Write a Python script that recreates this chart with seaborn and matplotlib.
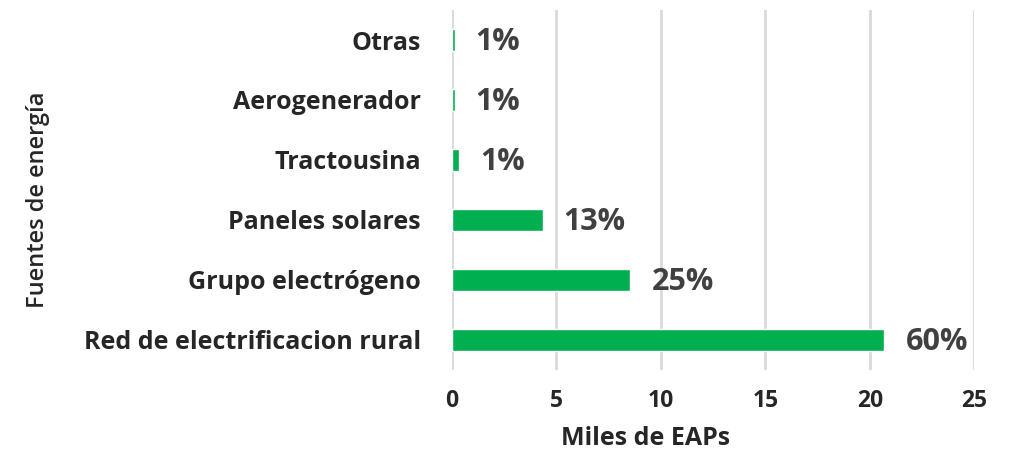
import matplotlib
matplotlib.use("Agg")
import matplotlib.pyplot as plt
import seaborn as sns
import pandas as pd

fuentes = ["Otras", "Aerogenerador", "Tractousina", "Paneles solares",
           "Grupo electrógeno", "Red de electrificacion rural"]
miles_eaps = [0.15, 0.15, 0.35, 4.35, 8.55, 20.7]
porcentajes = ["1%", "1%", "1%", "13%", "25%", "60%"]
ticks_x = [0, 5, 10, 15, 20, 25]

sns.set_theme(style="white")
plt.rcParams["font.family"] = ["Open Sans", "DejaVu Sans"]

df = pd.DataFrame({"fuente": fuentes, "miles": miles_eaps})

fig = plt.figure(figsize=(10.15, 4.55), dpi=100)
ax = fig.add_axes([0.445, 0.187, 0.515, 0.791])

sns.barplot(data=df, x="miles", y="fuente", orient="h", color="#00b050",
            saturation=1, width=0.36, ax=ax)

ax.set_xlim(0, 25)
ax.set_ylim(5.5, -0.5)
ax.set_xticks(ticks_x)
ax.set_xticklabels([str(t) for t in ticks_x], fontsize=16.5, fontweight="bold")
ax.tick_params(axis="y", labelsize=18, length=0, pad=22)
ax.tick_params(axis="x", length=0, pad=14)
for lab in ax.get_yticklabels():
    lab.set_fontweight("bold")

ax.grid(axis="x", color="#d9d9d9", linewidth=2)
ax.set_axisbelow(True)
for s in ax.spines.values():
    s.set_visible(False)

for i, (v, p) in enumerate(zip(miles_eaps, porcentajes)):
    ax.text(v + 1.0, i + 0.04, p, va="center", ha="left", fontsize=22,
            fontweight="bold", color="#404040")

ax.set_xlabel("Miles de EAPs", fontsize=18, fontweight="bold")
ax.xaxis.set_label_coords(0.37, -0.155)
ax.set_ylabel("")
fig.text(0.037, 0.56, "Fuentes de energía", rotation=90, fontsize=17,
         fontweight="semibold", va="center", ha="center")

fig.savefig("out.png", dpi=100, facecolor="white")
